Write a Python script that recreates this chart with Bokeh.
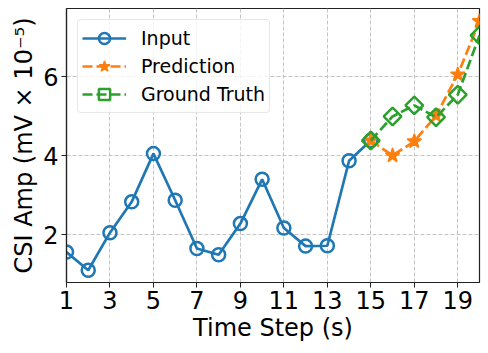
import numpy as np
from bokeh.plotting import figure
from bokeh.models import Range1d, FixedTicker, Legend, LegendItem
from bokeh.embed import file_html
from bokeh.resources import INLINE

# data
input_x = list(range(1, 16))
input_y = [1.56, 1.10, 2.05, 2.83, 4.05, 2.87, 1.65, 1.49, 2.28, 3.40, 2.17, 1.71, 1.72, 3.87, 4.38]
pred_x = [15, 16, 17, 18, 19, 20]
pred_y = [4.38, 4.00, 4.36, 5.01, 6.05, 7.40]
truth_x = [15, 16, 17, 18, 19, 20]
truth_y = [4.38, 4.99, 5.27, 4.97, 5.54, 7.04]
x_ticks = [1, 3, 5, 7, 9, 11, 13, 15, 17, 19]
y_ticks = [2, 4, 6]

BLUE = "#1f77b4"
ORANGE = "#ff7f0e"
GREEN = "#2ca02c"
FONT = "DejaVu Sans"

p = figure(width=488, height=353, output_backend="svg", toolbar_location=None,
           x_range=Range1d(1, 20), y_range=Range1d(0.79, 7.72),
           min_border_left=66, min_border_right=9, min_border_top=8, min_border_bottom=71)

p.outline_line_color = "#222222"
p.outline_line_width = 1.2

for ax in (p.xaxis[0], p.yaxis[0]):
    ax.major_label_text_font = FONT
    ax.major_label_text_font_size = "24px"
    ax.major_label_text_color = "black"
    ax.axis_label_text_font = FONT
    ax.axis_label_text_font_size = "24px"
    ax.axis_label_text_font_style = "normal"
    ax.axis_label_text_color = "black"
    ax.axis_line_color = "#222222"
    ax.axis_line_width = 1.2
    ax.major_tick_line_color = "#222222"
    ax.major_tick_out = 5
    ax.major_tick_in = 0
    ax.minor_tick_out = 0
    ax.minor_tick_in = 0
    ax.major_label_standoff = 3
    ax.axis_label_standoff = 2

p.xaxis.ticker = FixedTicker(ticks=x_ticks)
p.yaxis.ticker = FixedTicker(ticks=y_ticks)
p.xaxis.axis_label = "Time Step (s)"
p.yaxis.axis_label = "CSI Amp (mV × 10⁻⁵)"

p.xgrid.ticker = FixedTicker(ticks=x_ticks)
p.ygrid.ticker = FixedTicker(ticks=y_ticks)
for g in (p.xgrid[0], p.ygrid[0]):
    g.grid_line_color = "#c4c4c4"
    g.grid_line_dash = "4 2"
    g.grid_line_width = 1

l1 = p.line(input_x, input_y, line_color=BLUE, line_width=2.7)
s1 = p.scatter(input_x, input_y, marker="circle", size=13, line_color=BLUE,
               fill_color=None, line_width=2.5)
l2 = p.line(pred_x, pred_y, line_color=ORANGE, line_width=2.7, line_dash="10 4")
s2 = p.scatter(pred_x, pred_y, marker="star", size=15, line_color=ORANGE,
               fill_color=ORANGE, line_width=1.5)
l3 = p.line(truth_x, truth_y, line_color=GREEN, line_width=2.7, line_dash="10 4")
s3 = p.scatter(truth_x, truth_y, marker="square", angle=np.pi / 4, size=12.5,
               line_color=GREEN, fill_color=None, line_width=2.5)

legend = Legend(items=[
    LegendItem(label="Input", renderers=[l1, s1]),
    LegendItem(label="Prediction", renderers=[l2, s2]),
    LegendItem(label="Ground Truth", renderers=[l3, s3]),
], location="top_left")
legend.label_text_font = FONT
legend.label_text_font_size = "19px"
legend.label_text_color = "black"
legend.glyph_width = 44
legend.glyph_height = 28
legend.label_height = 28
legend.spacing = 0
legend.padding = 4
legend.margin = 11
legend.label_standoff = 15
legend.border_line_color = "#d0d0d0"
legend.border_line_width = 1
legend.border_radius = 4
legend.background_fill_alpha = 0.8
p.add_layout(legend)

open("out.html", "w").write(file_html(p, INLINE))
